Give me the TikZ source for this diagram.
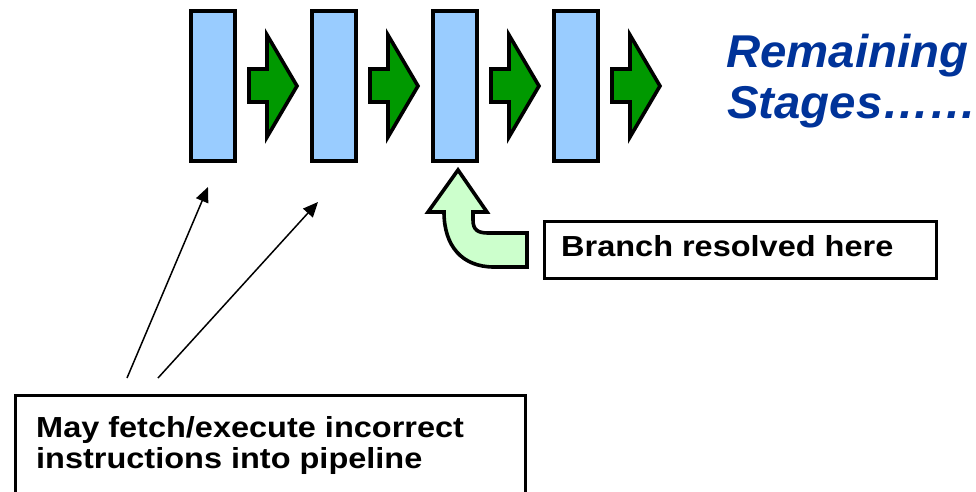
\documentclass[tikz,border=0pt]{standalone}
\usepackage{fontspec}
\usetikzlibrary{arrows.meta}
\newfontfamily\labfont[FakeStretch=1.12]{Liberation Sans}
\newfontfamily\stagefont[FakeStretch=1.03]{Liberation Sans}
\definecolor{stagefill}{RGB}{153,204,255}
\definecolor{flowgreen}{RGB}{0,153,0}
\definecolor{palegreen}{RGB}{204,255,204}
\definecolor{titleblue}{RGB}{0,51,153}
\tikzset{
  stagebox/.style={draw=black, line width=3.6pt, fill=stagefill, rectangle,
    minimum width=44.5pt, minimum height=150.5pt, inner sep=0pt},
  flowarrow/.style={draw=black, line width=3.6pt, fill=flowgreen, line join=miter},
  bendarrow/.style={draw=black, line width=3.6pt, fill=palegreen, line join=miter},
  notebox/.style={draw=black, line width=3.6pt, fill=white},
  notetext/.style={anchor=base west, inner sep=0pt,
    font=\labfont\bfseries\fontsize{29}{32}\selectfont},
  stagetext/.style={anchor=base west, inner sep=0pt, text=titleblue,
    font=\stagefont\bfseries\itshape\fontsize{46}{50}\selectfont},
  pointer/.style={draw=black, line width=1.5pt,
    -{Triangle[length=15pt,width=13pt]}}
}
\begin{document}
\begin{tikzpicture}[x=1pt, y=-1pt]
\useasboundingbox (0,0) rectangle (976,492);

% pipeline stage registers
\foreach \i/\cx in {1/213, 2/334, 3/455, 4/576}
  \node[stagebox] (s\i) at (\cx,86) {};

% green flow arrows after each stage
\foreach \i/\dx in {1/0, 2/121, 3/242, 4/363}
  \draw[flowarrow, shift={(\dx,0)}] (249,69) -- (267,69) -- (267,35)
    -- (297,86) -- (267,137) -- (267,102) -- (249,102) -- cycle;

\node[stagetext] (rem) at (726,68) {Remaining};
\node[stagetext] (stg) at (727,118) {Stages……};

% bent arrow pointing at the third stage
\draw[bendarrow] (458,170) -- (487,212) -- (473,212) -- (473,220)
  .. controls (473,230) and (478,233) .. (488,233) -- (527,233)
  -- (527,267) -- (494,267)
  .. controls (462,267) and (444,246) .. (444,212)
  -- (428,212) -- cycle;

% branch note
\node[notebox, rectangle, minimum width=392pt, minimum height=57pt, inner sep=0pt]
  (branch) at (740.5,250) {};
\node[notetext] (branchtxt) at (561,256) {Branch resolved here};

% fetch note, running off the lower edge
\draw[notebox] (15.5,500) -- (15.5,395.5) -- (525.5,395.5) -- (525.5,500);
\node[notetext] (fetch1) at (36,437) {May fetch/execute incorrect};
\node[notetext] (fetch2) at (36,468) {instructions into pipeline};

% pointers from the fetch note up to the first two stages
\coordinate (p1) at (127,378);
\coordinate (p2) at (158,378);
\coordinate (t1) at (208,187);
\coordinate (t2) at (318,202);
\draw[pointer] (p1) -- (t1);
\draw[pointer] (p2) -- (t2);
\end{tikzpicture}
\end{document}
